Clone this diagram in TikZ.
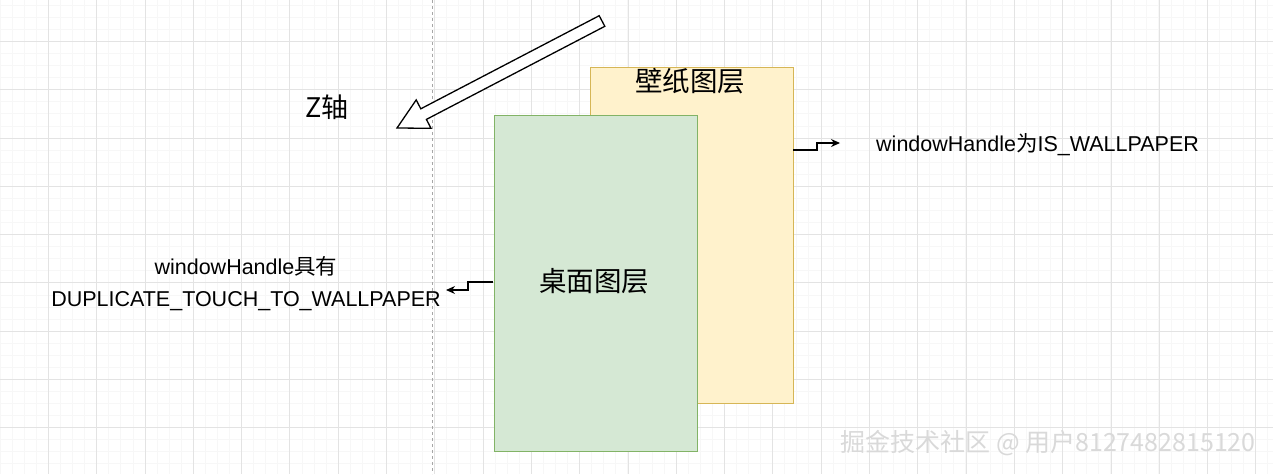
\documentclass[tikz,border=0pt]{standalone}
\usepackage{fontspec}
\setmainfont{Liberation Sans}
\newfontfamily\cjk{Noto Sans CJK SC}
\usetikzlibrary{arrows.meta}
\begin{document}
\begin{tikzpicture}[x=1pt,y=-1pt,
  layer/.style={draw,line width=1.3pt,minimum width=203pt,minimum height=336pt,anchor=north west,inner sep=0},
  conn/.style={line width=1.2pt,-{Stealth[length=9pt,width=8pt]}},
  lbl/.style={font=\fontsize{21.5}{32}\selectfont,align=center,inner sep=0}]
\fill[white] (0,0) rectangle (1273,474);
\useasboundingbox (0,0) rectangle (1273,474);
\foreach \i in {0,...,106} \draw[black!3,line width=0.5pt] ({\i*12.07},0) -- ({\i*12.07},474);
\foreach \i in {0,...,40} \draw[black!3,line width=0.5pt] (0,{-7+\i*12.07}) -- (1273,{-7+\i*12.07});
\foreach \i in {1,...,26} \draw[black!11,line width=0.7pt] ({\i*48.3},0) -- ({\i*48.3},474);
\foreach \i in {1,...,10} \draw[black!11,line width=0.7pt] (0,{-7+\i*48.3}) -- (1273,{-7+\i*48.3});
\draw[black!35,dashed,line width=0.7pt] (432,0) -- (432,474);
\draw[line width=1.3pt,fill=white] (604.8,26.3) -- (599.2,15.7) -- (420.8,108.8) -- (416.2,99.9) -- (397,128) -- (431,128.3) -- (426.4,119.4) -- cycle;
\node[lbl,font=\cjk\fontsize{27}{30}\selectfont] (z) at (327,107) {Z轴};
\node[layer,fill={rgb,255:red,255;green,242;blue,204},draw={rgb,255:red,214;green,182;blue,86}] (wp) at (589.5,66.5) {};
\node[lbl,font=\cjk\fontsize{27.5}{30}\selectfont] (wpt) at (690,81) {壁纸图层};
\node[layer,fill={rgb,255:red,213;green,232;blue,212},draw={rgb,255:red,130;green,179;blue,102}] (dk) at (493.5,114.5) {};
\node[lbl,font=\cjk\fontsize{27.5}{30}\selectfont] (dkt) at (594,281) {桌面图层};
\coordinate (r1) at (793,150);
\coordinate (r2) at (840,143);
\draw[conn] (r1) -- (817,150) -- (817,143) -- (r2);
\node[lbl,anchor=west] (rt) at (876,145) {windowHandle{\cjk 为}IS\_WALLPAPER};
\coordinate (l1) at (493,282);
\coordinate (l2) at (446,290);
\draw[conn] (l1) -- (468,282) -- (468,290) -- (l2);
\node[lbl] (lt) at (246,284) {windowHandle{\cjk 具有}\\DUPLICATE\_TOUCH\_TO\_WALLPAPER};
\node[font=\cjk\fontsize{25}{28}\selectfont,text=black!15,inner sep=0] (wm) at (1048,443) {掘金技术社区 @ 用户8127482815120};
\end{tikzpicture}
\end{document}
